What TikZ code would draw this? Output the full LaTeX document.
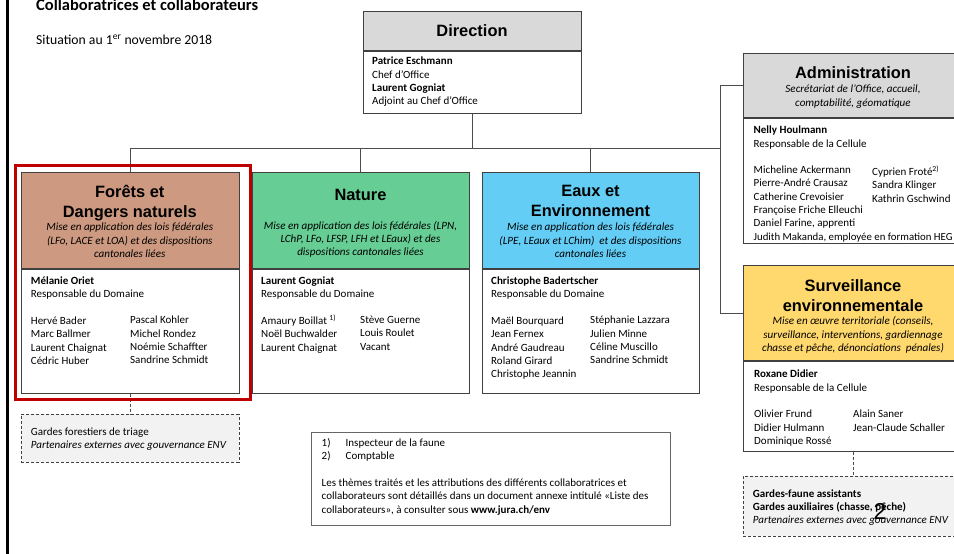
\documentclass[tikz,border=0pt]{standalone}
\usepackage{fontspec}
\setmainfont{Carlito}
\newfontfamily\arialfont{Liberation Sans}
\usetikzlibrary{positioning}
\definecolor{grigio}{RGB}{217,217,217}
\definecolor{marrone}{RGB}{205,153,128}
\definecolor{verde}{RGB}{102,205,148}
\definecolor{azzurro}{RGB}{99,205,245}
\definecolor{giallo}{RGB}{255,216,110}
\definecolor{rosso}{RGB}{192,0,0}
\definecolor{grigiochiaro}{RGB}{242,242,242}
\newcommand{\corpo}{\fontsize{11}{13.3}\selectfont}
\newcommand{\sottotitolo}{\fontsize{11.1}{13.3}\selectfont\itshape}
\newcommand{\titolo}{\arialfont\bfseries\fontsize{16.4}{20}\selectfont}
\tikzset{
  riquadro/.style={draw=black!75, line width=0.8pt, anchor=north west, inner sep=0pt},
  tratteggio/.style={riquadro, dash pattern=on 3pt off 2pt, fill=grigiochiaro},
  testo/.style={anchor=north west, inner sep=0pt, align=left, font=\corpo, execute at begin node=\strut},
  intestazione/.style={anchor=north, inner sep=0pt, align=center, font=\titolo, execute at begin node=\strut},
  descrizione/.style={anchor=north, inner sep=0pt, align=center, font=\sottotitolo, execute at begin node=\strut},
  linea/.style={draw=black!70, line width=0.8pt}
}

\begin{document}
\begin{tikzpicture}[x=1pt, y=-1pt]
    \useasboundingbox (0,0) rectangle (954,554);
    \clip (0,0) rectangle (954,554);
    % Titolo
    \draw[line width=2.5pt] (7.5,0) -- (7.5,554);
    \node[testo, font=\fontsize{16.5}{19}\selectfont\bfseries] (titolo) at (36,-2.6) {Collaboratrices et collaborateurs};
    \node[testo, font=\fontsize{13.7}{16}\selectfont] (data) at (36,33.2) {Situation au 1\textsuperscript{er} novembre 2018};
    % Direzione
    \node[riquadro, fill=grigio, minimum width=218pt, minimum height=39pt] (dirT) at (363,11) {};
    \node[riquadro, fill=white, minimum width=218pt, minimum height=62pt] (dirC) at (dirT.south west) {};
    \node[intestazione] (dirN) at (472,21.9) {Direction};
    \node[testo] (dirP) at (372,57) {\textbf{Patrice Eschmann}\\Chef d’Office\\\textbf{Laurent Gogniat}\\Adjoint au Chef d’Office};
    % Forets
    \node[riquadro, fill=marrone, minimum width=217.5pt, minimum height=96.6pt] (foretsT) at (21,171.7) {};
    \node[riquadro, fill=white, minimum width=217.5pt, minimum height=123.7pt] (foretsC) at (foretsT.south west) {};
    \node[intestazione] (foretsN) at (129.8,185) {Forêts et\\Dangers naturels};
    \node[descrizione] (foretsD) at (129.8,223) {Mise en application des lois fédérales\\(LFo, LACE et LOA) et des dispositions\\cantonales liées};
    \node[testo] (foretsR) at (30.7,276.6) {\textbf{Mélanie Oriet}\\Responsable du Domaine\\[13.3pt]Hervé Bader\\Marc Ballmer\\Laurent Chaignat\\Cédric Huber};
    \node[testo] (foretsS) at (130,315.9) {Pascal Kohler\\Michel Rondez\\Noémie Schaffter\\Sandrine Schmidt};
    % Natura
    \node[riquadro, fill=verde, minimum width=217.5pt, minimum height=96.6pt] (natureT) at (251.7,171.7) {};
    \node[riquadro, fill=white, minimum width=217.5pt, minimum height=123.7pt] (natureC) at (natureT.south west) {};
    \node[intestazione] (natureN) at (360.5,186.4) {Nature};
    \node[descrizione] (natureD) at (360.5,220.8) {Mise en application des lois fédérales (LPN,\\LChP, LFo, LFSP, LFH et LEaux) et des\\dispositions cantonales liées};
    \node[testo] (natureR) at (261,276.6) {\textbf{Laurent Gogniat}\\Responsable du Domaine\\[13.3pt]Amaury Boillat \textsuperscript{1)}\\Noël Buchwalder\\Laurent Chaignat};
    \node[testo] (natureS) at (360,315.9) {Stève Guerne\\Louis Roulet\\Vacant};
    % Acque
    \node[riquadro, fill=azzurro, minimum width=217.5pt, minimum height=96.6pt] (eauxT) at (481.7,171.7) {};
    \node[riquadro, fill=white, minimum width=217.5pt, minimum height=123.7pt] (eauxC) at (eauxT.south west) {};
    \node[intestazione] (eauxN) at (590.5,185.2) {Eaux et\\Environnement};
    \node[descrizione] (eauxD) at (590.5,223) {Mise en application des lois fédérales\\(LPE, LEaux et LChim)\ \ et des dispositions\\cantonales liées};
    \node[testo] (eauxR) at (491,276.6) {\textbf{Christophe Badertscher}\\Responsable du Domaine\\[13.3pt]Maël Bourquard\\Jean Fernex\\André Gaudreau\\Roland Girard\\Christophe Jeannin};
    \node[testo] (eauxS) at (590,315.9) {Stéphanie Lazzara\\Julien Minne\\Céline Muscillo\\Sandrine Schmidt};
    % Amministrazione
    \node[riquadro, fill=grigio, minimum width=220pt, minimum height=64pt] (adminT) at (743,53) {};
    \node[riquadro, fill=white, minimum width=220pt, minimum height=125pt] (adminC) at (adminT.south west) {};
    \node[intestazione] (adminN) at (853,64.6) {Administration};
    \node[descrizione] (adminD) at (853,85) {Secrétariat de l’Office, accueil,\\comptabilité, géomatique};
    \node[testo] (adminR) at (753.5,125.8) {\textbf{Nelly Houlmann}\\Responsable de la Cellule\\[13.3pt]Micheline Ackermann\\Pierre-André Crausaz\\Catherine Crevoisier\\Françoise Friche Elleuchi\\Daniel Farine, apprenti\\{\fontsize{10.8}{13.3}\selectfont Judith Makanda, employée en formation HEG}};
    \node[testo] (adminS) at (872,165.7) {Cyprien Froté\textsuperscript{2)}\\Sandra Klinger\\Kathrin Gschwind};
    % Sorveglianza
    \node[riquadro, fill=giallo, minimum width=220pt, minimum height=95pt] (survT) at (743,265) {};
    \node[riquadro, fill=white, minimum width=220pt, minimum height=90pt] (survC) at (survT.south west) {};
    \node[intestazione] (survN) at (853,279.3) {Surveillance\\environnementale};
    \node[descrizione] (survD) at (853,316.5) {Mise en œuvre territoriale (conseils,\\surveillance, interventions, gardiennage\\chasse et pêche, dénonciations\ \ pénales)};
    \node[testo] (survR) at (754,370) {\textbf{Roxane Didier}\\Responsable de la Cellule\\[13.3pt]Olivier Frund\\Didier Hulmann\\Dominique Rossé};
    \node[testo] (survS) at (853,409.9) {Alain Saner\\Jean-Claude Schaller};
    % Partner esterni
    \node[tratteggio, minimum width=217.5pt, minimum height=48pt] (gardeF) at (21,414) {};
    \node[testo] (gardeFt) at (30.7,427.8) {Gardes forestiers de triage\\\textit{Partenaires externes avec gouvernance ENV}};
    \node[tratteggio, minimum width=220pt, minimum height=60pt] (gardeS) at (743,476) {};
    \node[testo] (gardeSt) at (752.7,489.3) {\textbf{Gardes-faune assistants}\\\textbf{Gardes auxiliaires (chasse, pêche)}\\\textit{Partenaires externes avec gouvernance ENV}};
    \node[inner sep=0pt, font=\arialfont\fontsize{23}{26}\selectfont] (pagina) at (880,511) {2};
    % Note
    \node[riquadro, draw=black!60, minimum width=359pt, minimum height=93.3pt] (note) at (311,431.7) {};
    \node[testo] (noteT) at (321.5,438.4) {\makebox[24pt][l]{1)}Inspecteur de la faune\\\makebox[24pt][l]{2)}Comptable\\[13.3pt]Les thèmes traités et les attributions des différents collaboratrices et\\collaborateurs sont détaillés dans un document annexe intitulé «Liste des\\collaborateurs», à consulter sous \textbf{www.jura.ch/env}};
    % Collegamenti
    \coordinate (snodo) at (720,148);
    \draw[linea] (dirC.south) -- (dirC.south |- snodo);
    \draw[linea] (foretsT.north) -- (foretsT.north |- snodo) -- (snodo);
    \draw[linea] (natureT.north) -- (natureT.north |- snodo);
    \draw[linea] (eauxT.north) -- (eauxT.north |- snodo);
    \draw[linea] (adminT.west) -- (adminT.west -| snodo) -- (survT.west -| snodo) -- (survT.west);
    \draw[linea, dash pattern=on 3pt off 2pt] (foretsC.south) -- (gardeF.north);
    \draw[linea, dash pattern=on 3pt off 2pt] (survC.south) -- (gardeS.north);
    % Cornice rossa
    \draw[rosso, line width=3pt] (15,165) rectangle (250,399);
\end{tikzpicture}
\end{document}
